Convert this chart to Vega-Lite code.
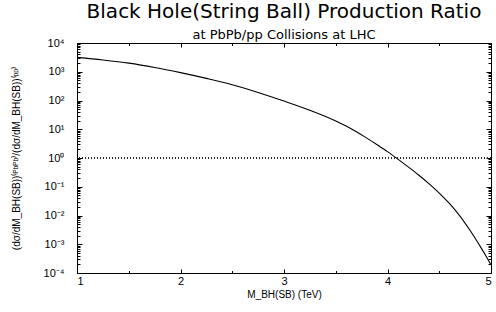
{
  "$schema": "https://vega.github.io/schema/vega-lite/v6.json",
  "width": 414,
  "height": 230,
  "autosize": "none",
  "padding": {"left": 77, "top": 43, "right": 5, "bottom": 39},
  "background": "white",
  "config": {
    "font": "Liberation Sans",
    "view": {"stroke": "black", "strokeWidth": 1},
    "axis": {"grid": false, "domain": false, "tickColor": "black", "labelColor": "black", "titleColor": "black", "labelFont": "Liberation Sans", "titleFont": "Liberation Sans", "titleFontWeight": "normal", "labelFontSize": 11, "titleFontSize": 10}
  },
  "title": {
    "text": "Black Hole(String Ball) Production Ratio",
    "subtitle": "at PbPb/pp Collisions at LHC",
    "fontSize": 20,
    "fontWeight": "normal",
    "font": "DejaVu Sans",
    "color": "black",
    "subtitleFont": "DejaVu Sans",
    "subtitleFontSize": 13,
    "subtitleColor": "black",
    "subtitlePadding": 7,
    "offset": -5,
    "anchor": "middle"
  },
  "datasets": {
    "curve": [
      {"m": 1.0, "ratio": 3160},
      {"m": 1.25, "ratio": 2570},
      {"m": 1.5, "ratio": 1995},
      {"m": 1.75, "ratio": 1413},
      {"m": 2.0, "ratio": 933},
      {"m": 2.25, "ratio": 589},
      {"m": 2.5, "ratio": 355},
      {"m": 2.75, "ratio": 191},
      {"m": 3.0, "ratio": 95.5},
      {"m": 3.25, "ratio": 45.7},
      {"m": 3.5, "ratio": 19.5},
      {"m": 3.6, "ratio": 12.9},
      {"m": 3.7, "ratio": 8.13},
      {"m": 3.8, "ratio": 4.9},
      {"m": 3.9, "ratio": 2.88},
      {"m": 4.0, "ratio": 1.66},
      {"m": 4.1, "ratio": 0.912},
      {"m": 4.2, "ratio": 0.49},
      {"m": 4.3, "ratio": 0.257},
      {"m": 4.4, "ratio": 0.129},
      {"m": 4.5, "ratio": 0.0603},
      {"m": 4.6, "ratio": 0.0257},
      {"m": 4.7, "ratio": 0.00955},
      {"m": 4.8, "ratio": 0.00295},
      {"m": 4.9, "ratio": 0.000794},
      {"m": 4.95, "ratio": 0.000398},
      {"m": 5.0, "ratio": 0.000191}
    ]
  },
  "data": {"name": "curve"},
  "resolve": {"axis": {"x": "independent", "y": "independent"}},
  "layer": [
    {
      "mark": {"type": "line", "color": "black", "strokeWidth": 1.1, "interpolate": "monotone", "clip": true},
      "encoding": {
        "x": {"field": "m", "type": "quantitative", "scale": {"domain": [1, 5], "nice": false, "zero": false},
          "axis": {"orient": "bottom", "values": [1, 2, 3, 4, 5], "tickSize": -4, "labelPadding": 6, "title": "M_BH(SB)  (TeV)", "titlePadding": 3}},
        "y": {"field": "ratio", "type": "quantitative", "scale": {"type": "log", "domain": [0.0001, 10000], "nice": false},
          "axis": {"orient": "left", "values": [0.0001, 0.001, 0.01, 0.1, 1, 10, 100, 1000, 10000], "tickSize": -5, "labelPadding": 18,
            "labelExpr": "'10' + ['⁻⁴','⁻³','⁻²','⁻¹','⁰','¹','²','³','⁴'][round(log(datum.value)/LN10)+4]",
            "title": "(dσ/dM_BH(SB))⁽ᴾᵇᴾᵇ⁾/(dσ/dM_BH(SB))⁽ᵖᵖ⁾", "titlePadding": 22}}
      }
    },
    {
      "mark": {"type": "line", "opacity": 0},
      "encoding": {
        "x": {"field": "m", "type": "quantitative",
          "axis": {"orient": "bottom", "values": [1.5, 2.5, 3.5, 4.5], "tickSize": -2.5, "labels": false, "title": null}},
        "y": {"field": "ratio", "type": "quantitative",
          "axis": {"orient": "left", "values": [0.0002,0.0003,0.0004,0.0005,0.0006,0.0007,0.0008,0.0009,0.002,0.003,0.004,0.005,0.006,0.007,0.008,0.009,0.02,0.03,0.04,0.05,0.06,0.07,0.08,0.09,0.2,0.3,0.4,0.5,0.6,0.7,0.8,0.9,2,3,4,5,6,7,8,9,20,30,40,50,60,70,80,90,200,300,400,500,600,700,800,900,2000,3000,4000,5000,6000,7000,8000,9000], "tickSize": -3, "labels": false, "title": null}}
      }
    },
    {
      "mark": {"type": "line", "opacity": 0},
      "encoding": {
        "x": {"field": "m", "type": "quantitative",
          "axis": {"orient": "top", "values": [1, 1.5, 2, 2.5, 3, 3.5, 4, 4.5, 5], "tickSize": {"condition": {"test": "datum.value % 1 == 0", "value": -4}, "value": -2.5}, "labels": false, "title": null}},
        "y": {"field": "ratio", "type": "quantitative",
          "axis": {"orient": "right", "values": [0.0001,0.0002,0.0003,0.0004,0.0005,0.0006,0.0007,0.0008,0.0009,0.001,0.002,0.003,0.004,0.005,0.006,0.007,0.008,0.009,0.01,0.02,0.03,0.04,0.05,0.06,0.07,0.08,0.09,0.1,0.2,0.3,0.4,0.5,0.6,0.7,0.8,0.9,1,2,3,4,5,6,7,8,9,10,20,30,40,50,60,70,80,90,100,200,300,400,500,600,700,800,900,1000,2000,3000,4000,5000,6000,7000,8000,9000,10000],
            "tickSize": {"condition": {"test": "abs(log(datum.value)/LN10 - round(log(datum.value)/LN10)) < 0.001", "value": -5}, "value": -3}, "labels": false, "title": null}}
      }
    },
    {
      "mark": {"type": "rule", "color": "#222222", "strokeWidth": 1, "strokeDash": [1, 2]},
      "encoding": {"y": {"datum": 1, "axis": null}}
    }
  ]
}
